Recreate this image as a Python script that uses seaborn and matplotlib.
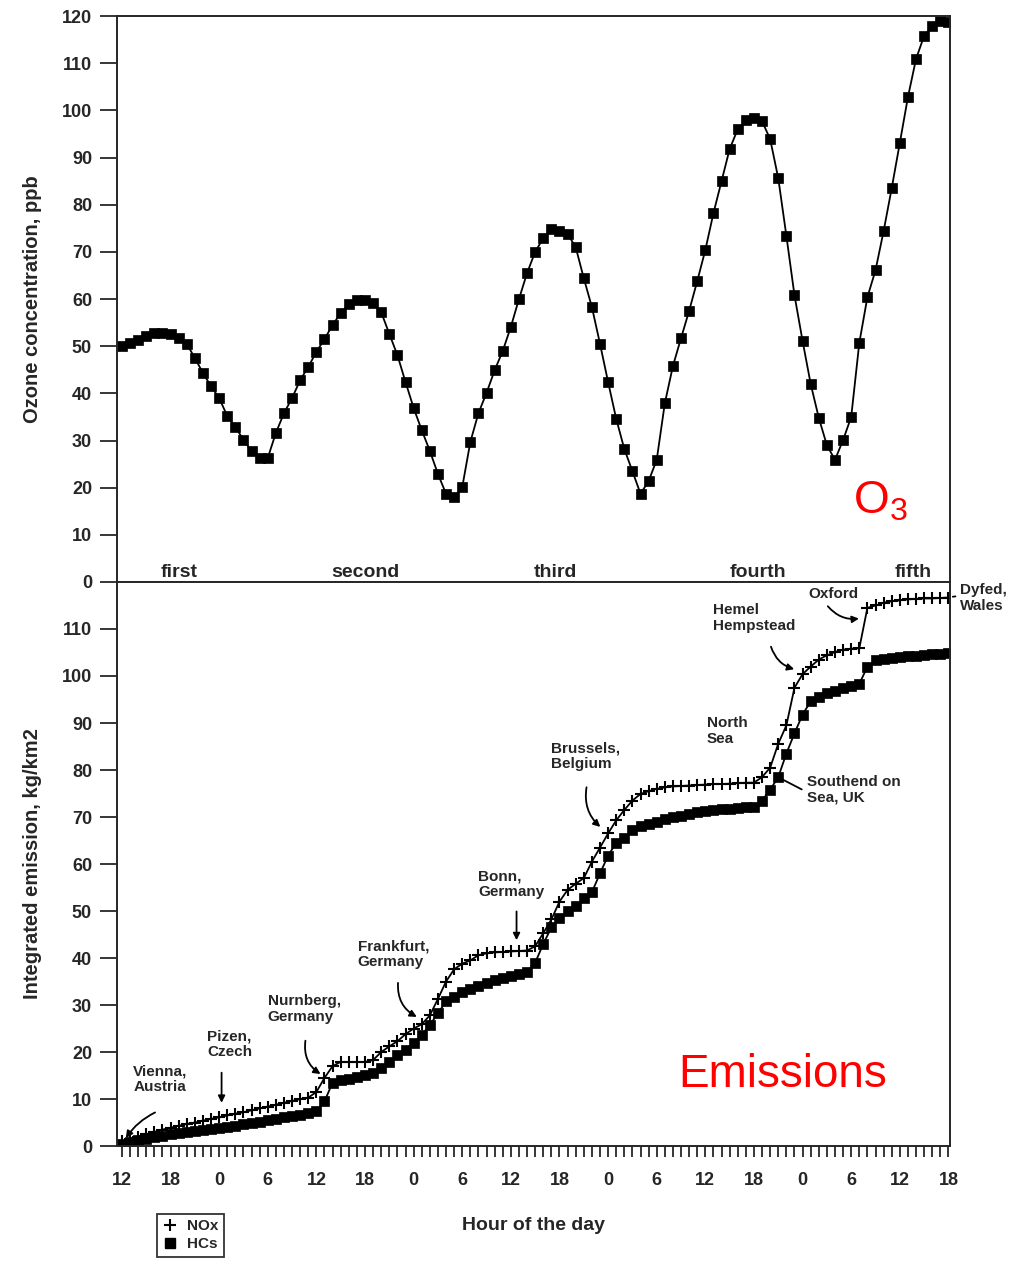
import matplotlib
matplotlib.use('Agg')
import matplotlib.pyplot as plt
from matplotlib.lines import Line2D
import seaborn as sns

# hourly values, starting at 12:00 of the first day
hours = list(range(103))

ozone = [50, 50.7, 51.3, 52.2, 52.8, 52.9, 52.6, 51.7, 50.5, 47.5,
         44.3, 41.5, 39, 35.2, 32.9, 30.1, 27.8, 26.3, 26.3, 31.6,
         35.8, 39, 42.8, 45.6, 48.8, 51.5, 54.5, 57, 59, 59.8,
         59.8, 59.1, 57.2, 52.6, 48.1, 42.4, 36.9, 32.2, 27.8, 22.9,
         18.7, 18, 20.1, 29.7, 35.8, 40.1, 44.9, 49, 54.1, 60,
         65.5, 70, 72.9, 74.8, 74.4, 73.8, 71, 64.4, 58.3, 50.5,
         42.4, 34.6, 28.2, 23.5, 18.7, 21.4, 25.9, 37.9, 45.8, 51.7,
         57.5, 63.8, 70.4, 78.2, 85, 91.8, 96, 97.9, 98.4, 97.7,
         93.9, 85.6, 73.4, 60.8, 51.1, 42, 34.8, 29, 25.9, 30.1,
         35, 50.7, 60.4, 66.1, 74.4, 83.5, 93.1, 102.8, 110.9, 115.8,
         117.9, 118.9, 118.7]

nox = [1.0, 1.5, 2.0, 2.5, 3.0, 3.5, 3.9, 4.3, 4.7, 5.0,
       5.4, 5.8, 6.1, 6.5, 6.9, 7.2, 7.6, 8.0, 8.4, 8.8,
       9.2, 9.6, 10.0, 10.3, 11.5, 14.5, 17.0, 17.9, 17.9, 17.9,
       17.9, 18.3, 20.0, 21.2, 22.3, 23.8, 25.0, 25.9, 27.8, 31.3,
       35.0, 37.6, 38.8, 39.5, 40.6, 41.0, 41.2, 41.3, 41.4, 41.5,
       41.6, 42.5, 45.3, 48.2, 52.0, 54.5, 55.8, 57.0, 60.5, 63.5,
       66.5, 69.3, 71.5, 73.5, 74.9, 75.5, 76.0, 76.3, 76.5, 76.6,
       76.7, 76.8, 76.9, 77.0, 77.0, 77.1, 77.2, 77.3, 77.3, 78.5,
       80.5, 85.6, 89.5, 97.5, 100.4, 102.0, 103.5, 104.4, 105.1, 105.6,
       105.8, 105.9, 114.5, 115.0, 115.6, 115.9, 116.1, 116.3, 116.4, 116.5,
       116.5, 116.6, 116.7]

hcs = [0.4, 0.8, 1.2, 1.6, 1.9, 2.2, 2.5, 2.8, 3.0, 3.3,
       3.5, 3.7, 3.9, 4.1, 4.3, 4.6, 4.9, 5.2, 5.5, 5.8,
       6.1, 6.4, 6.7, 7.0, 7.4, 9.5, 13.5, 14.0, 14.3, 14.7,
       15.1, 15.5, 16.5, 17.8, 19.3, 20.5, 22.0, 23.6, 25.8, 28.2,
       30.8, 31.8, 32.7, 33.4, 34.0, 34.7, 35.3, 35.8, 36.2, 36.7,
       37.1, 39.0, 43.0, 46.5, 48.5, 50.0, 51.0, 52.7, 54.0, 58.0,
       61.8, 64.5, 65.6, 67.2, 68.1, 68.6, 69.0, 69.5, 69.9, 70.3,
       70.7, 71.0, 71.2, 71.4, 71.6, 71.8, 72.0, 72.1, 72.2, 73.5,
       75.8, 78.5, 83.5, 87.8, 91.8, 94.6, 95.6, 96.3, 96.9, 97.5,
       97.9, 98.3, 102.0, 103.4, 103.7, 103.9, 104.1, 104.2, 104.3, 104.5,
       104.6, 104.7, 104.9]

hour_labels = ['12', '18', '0', '6', '12', '18', '0', '6', '12', '18',
               '0', '6', '12', '18', '0', '6', '12', '18']
day_names = ['first', 'second', 'third', 'fourth', 'fifth']
day_x = [7, 30, 53.5, 78.5, 97.6]

# (text, text xy, arrow start, arrow end, arrow style, curvature)
places = [
    ('Vienna,\nAustria', (1.4, 17.4), (4.4, 7.4), (0.3, 1.2), '-|>', 0.15),
    ('Pizen,\nCzech', (10.5, 24.8), (12.3, 16.2), (12.3, 8.6), '-|>', 0.0),
    ('Nurnberg,\nGermany', (18.0, 32.3), (22.7, 23.0), (24.8, 15.0), '-|>', 0.35),
    ('Frankfurt,\nGermany', (29.1, 43.9), (34.1, 35.3), (36.7, 27.2), '-|>', 0.35),
    ('Bonn,\nGermany', (44.0, 58.8), (48.7, 50.5), (48.7, 43.2), '-|>', 0.0),
    ('Brussels,\nBelgium', (53.0, 86.0), (57.4, 76.9), (59.3, 67.5), '-|>', 0.3),
    ('North\nSea', (72.2, 91.5), None, None, None, 0.0),
    ('Hemel\nHempstead', (73.0, 115.5), (80.0, 106.8), (83.3, 101.3), '-|>', 0.3),
    ('Oxford', (84.7, 119.0), (86.9, 115.3), (91.3, 112.3), '-|>', 0.3),
    ('Dyfed,\nWales', (103.4, 119.8), (102.2, 116.8), (103.2, 117.0), '-', 0.0),
    ('Southend on\nSea, UK', (84.5, 79.0), (84.2, 75.6), (80.5, 78.9), '-', 0.0),
]

sns.set_style('ticks')
plt.rcParams['font.family'] = ['Liberation Sans', 'DejaVu Sans']
plt.rcParams['mathtext.default'] = 'regular'
plt.rcParams['axes.linewidth'] = 1.4

fig = plt.figure(figsize=(10.16, 12.63), dpi=100)
ax1 = fig.add_axes([0.1152, 0.5392, 0.8199, 0.4481])
ax2 = fig.add_axes([0.1152, 0.0926, 0.8199, 0.4466])

sns.lineplot(x=hours, y=ozone, ax=ax1, color='black', linewidth=1.3,
             marker='s', markersize=7, markeredgecolor='black',
             markeredgewidth=0.5, errorbar=None)

sns.lineplot(x=hours, y=nox, ax=ax2, color='black', linewidth=1.3,
             marker='+', markersize=9, markeredgecolor='black',
             markeredgewidth=1.5, errorbar=None)
sns.lineplot(x=hours, y=hcs, ax=ax2, color='black', linewidth=1.3,
             marker='s', markersize=7.3, markeredgecolor='black',
             markeredgewidth=0.5, errorbar=None)

for ax in (ax1, ax2):
    ax.set_xlim(-0.6, 102.2)
    ax.set_ylim(0, 120)
    ax.tick_params(axis='y', direction='out', length=12, width=1.3, pad=6,
                   labelsize=13)

ax1.set_yticks(range(0, 121, 10))
ax1.set_yticklabels([str(v) for v in range(0, 121, 10)], fontweight='bold')
ax1.tick_params(axis='x', bottom=False, labelbottom=False)
ax1.set_ylabel('Ozone concentration, ppb', fontsize=14.5, fontweight='bold')
ax1.yaxis.set_label_coords(-0.09, 0.5)

ax2.set_yticks(range(0, 111, 10))
ax2.set_yticklabels([str(v) for v in range(0, 111, 10)], fontweight='bold')
ax2.set_xticks(range(0, 103, 6))
ax2.set_xticklabels(hour_labels, fontweight='bold')
ax2.set_xticks(hours, minor=True)
ax2.tick_params(axis='x', which='both', direction='out', length=8, width=1.3,
                pad=11, labelsize=13)
ax2.set_ylabel('Integrated emission, kg/km2', fontsize=14.5, fontweight='bold')
ax2.yaxis.set_label_coords(-0.09, 0.5)

for name, xpos in zip(day_names, day_x):
    ax1.text(xpos, 0.2, name, ha='center', va='bottom', fontsize=14,
             fontweight='bold')

ax1.text(93.6, 17, 'O$_3$', color='red', fontsize=33, ha='center', va='center')
ax2.text(81.5, 15.2, 'Emissions', color='red', fontsize=33, ha='center',
         va='center')

for text, txy, start, end, style, rad in places:
    ax2.text(txy[0], txy[1], text, ha='left', va='top', fontsize=11,
             fontweight='bold', linespacing=1.15, clip_on=False)
    if start is not None:
        ax2.annotate('', xy=end, xytext=start, annotation_clip=False,
                     arrowprops=dict(arrowstyle=style, color='black', lw=1.3,
                                     mutation_scale=10,
                                     connectionstyle=f'arc3,rad={rad}'))

fig.text(0.525, 1 - 1225 / 1263, 'Hour of the day', ha='center', va='center',
         fontsize=14, fontweight='bold')

handles = [Line2D([], [], color='black', marker='+', linestyle='none',
                  markersize=9, markeredgewidth=1.5),
           Line2D([], [], color='black', marker='s', linestyle='none',
                  markersize=7.5)]
leg = fig.legend(handles, ['NOx', 'HCs'], loc='upper left',
                 bbox_to_anchor=(157 / 1016, 1 - 1214 / 1263),
                 frameon=True, fancybox=False, edgecolor='black',
                 borderpad=0.35, handlelength=1.0, handletextpad=0.6,
                 labelspacing=0.25, borderaxespad=0,
                 prop={'weight': 'bold', 'size': 11})
leg.get_frame().set_linewidth(1.3)

fig.savefig('out.png', dpi=100)
